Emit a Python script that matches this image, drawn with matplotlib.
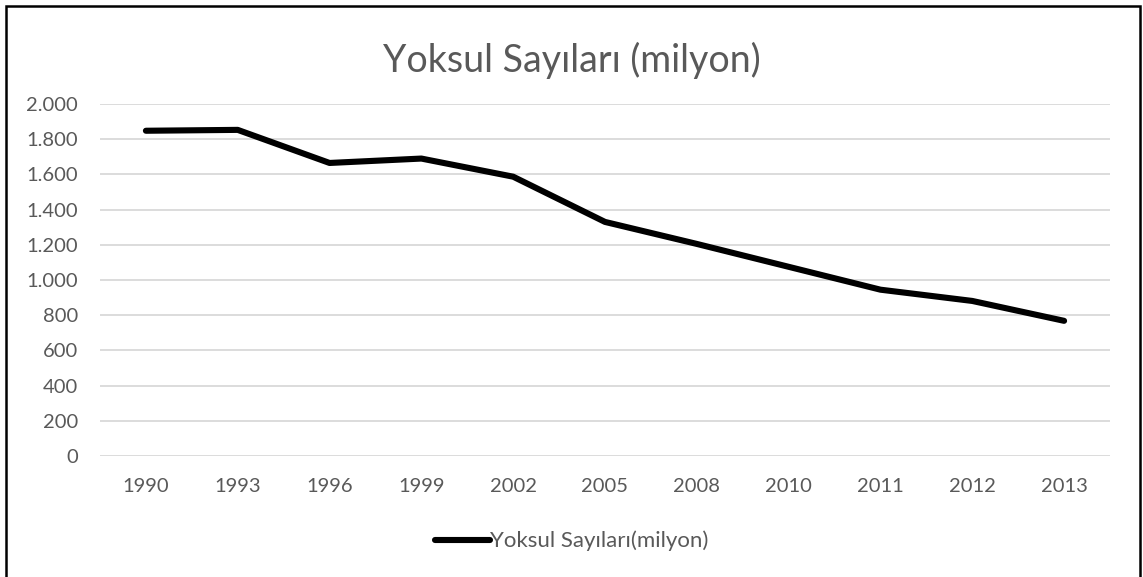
import matplotlib.pyplot as plt
from matplotlib.patches import Rectangle
from matplotlib.ticker import FuncFormatter

# veriler
yillar = ['1990', '1993', '1996', '1999', '2002', '2005', '2008', '2010', '2011', '2012', '2013']
yoksul = [1848, 1853, 1665, 1690, 1587, 1330, 1205, 1075, 945, 881, 768]

plt.rcParams['font.family'] = ['Lato', 'DejaVu Sans']

W, H = 1143, 577
fig = plt.figure(figsize=(W / 100, H / 100), dpi=100)
ax = fig.add_axes([100 / W, 1 - 456 / H, 1010 / W, 352 / H])

x = range(len(yillar))
ax.plot(x, yoksul, color='black', linewidth=4.4, solid_capstyle='round',
        solid_joinstyle='round', label='Yoksul Sayıları(milyon)')

ax.set_xlim(-0.5, len(yillar) - 0.5)
ax.set_ylim(0, 2000)
ax.set_yticks(range(0, 2001, 200))
ax.yaxis.set_major_formatter(FuncFormatter(lambda v, p: f'{int(v):,}'.replace(',', '.')))
ax.set_xticks(list(x))
ax.set_xticklabels(yillar)

ax.grid(axis='y', color='#d9d9d9', linewidth=1.3)
ax.set_axisbelow(True)
for s in ax.spines.values():
    s.set_visible(False)
ax.tick_params(length=0, labelsize=14.5, colors='#595959')
ax.tick_params(axis='x', pad=16)
ax.tick_params(axis='y', pad=16)

fig.text(0.5, 1 - 60 / H, 'Yoksul Sayıları (milyon)', ha='center', va='center',
         fontsize=27, color='#595959')

leg = fig.legend(loc='center', bbox_to_anchor=(0.5, 1 - 541 / H), frameon=False,
                 fontsize=16, handlelength=2.45, handletextpad=0.0, labelcolor='#595959')

# dis cerceve
fig.patches.append(Rectangle((6 / W, -0.05), 1134 / W, 1 - 6 / H + 0.05,
                             transform=fig.transFigure, fill=False,
                             edgecolor='black', linewidth=1.8, clip_on=False))

fig.savefig('out.png', dpi=100)
